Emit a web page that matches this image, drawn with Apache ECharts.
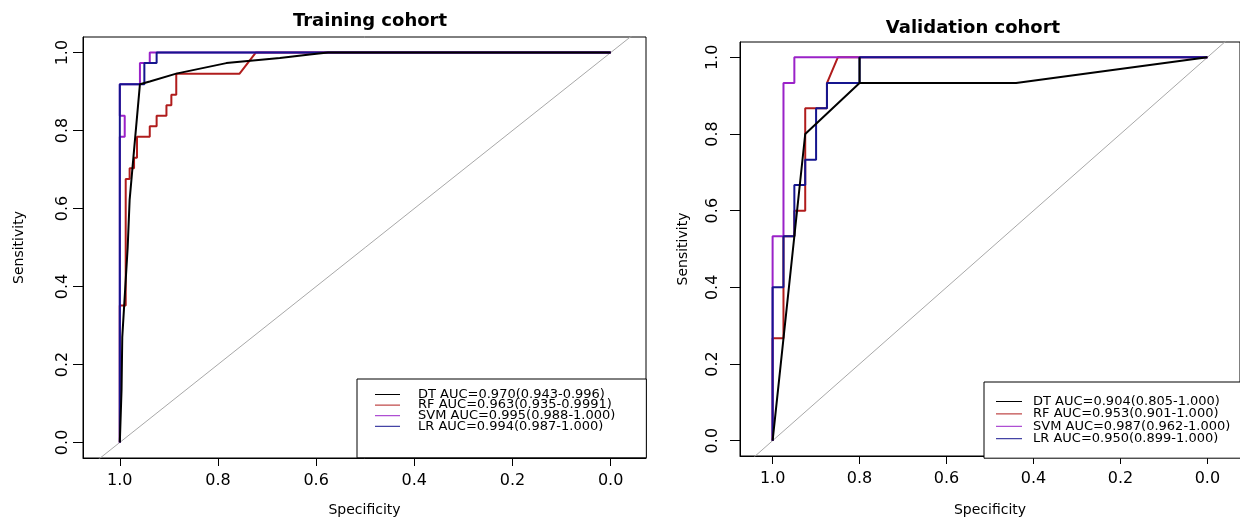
<!DOCTYPE html>
<html>
<head>
<meta charset="utf-8">
<title>ROC curves</title>
<script src="https://cdn.jsdelivr.net/npm/echarts@6/dist/echarts.min.js"></script>
<style>
  html, body { margin: 0; padding: 0; background: #fff; }
  #chart { width: 1240px; height: 522px; }
</style>
</head>
<body>
<div id="chart"></div>
<script>
// ROC points, as [specificity, sensitivity]
const trainDT = [[1, 0], [0.9965, 0.134], [0.995, 0.27], [0.988, 0.416], [0.984, 0.5], [0.98, 0.622],
  [0.971, 0.75], [0.959, 0.919], [0.939, 0.926], [0.885, 0.946], [0.783, 0.973], [0.674, 0.986],
  [0.613, 0.995], [0.576, 1], [0, 1]];
const trainRF = [[1, 0], [1, 0.351], [0.988, 0.351], [0.988, 0.676], [0.98, 0.676], [0.98, 0.703],
  [0.971, 0.703], [0.971, 0.73], [0.965, 0.73], [0.965, 0.784], [0.939, 0.784], [0.939, 0.811],
  [0.925, 0.811], [0.925, 0.838], [0.905, 0.838], [0.905, 0.865], [0.895, 0.865], [0.895, 0.892],
  [0.885, 0.892], [0.885, 0.946], [0.756, 0.946], [0.723, 1], [0, 1]];
const trainSVM = [[1, 0], [1, 0.784], [0.99, 0.784], [0.99, 0.838], [1, 0.838], [1, 0.919],
  [0.959, 0.919], [0.959, 0.973], [0.939, 0.973], [0.939, 1], [0, 1]];
const trainLR = [[1, 0], [1, 0.919], [0.95, 0.919], [0.95, 0.973], [0.925, 0.973], [0.925, 1], [0, 1]];

const validDT = [[1, 0], [0.925, 0.8], [0.8, 0.933], [0.8, 1], [0.8, 0.933], [0.44, 0.933], [0, 1]];
const validRF = [[1, 0], [1, 0.267], [0.975, 0.267], [0.975, 0.533], [0.95, 0.533], [0.95, 0.6],
  [0.925, 0.6], [0.925, 0.867], [0.875, 0.867], [0.875, 0.933], [0.85, 1], [0, 1]];
const validSVM = [[1, 0], [1, 0.533], [0.975, 0.533], [0.975, 0.933], [0.95, 0.933], [0.95, 1], [0, 1]];
const validLR = [[1, 0], [1, 0.4], [0.975, 0.4], [0.975, 0.533], [0.95, 0.533], [0.95, 0.667],
  [0.925, 0.667], [0.925, 0.733], [0.9, 0.733], [0.9, 0.867], [0.875, 0.867], [0.875, 0.933],
  [0.8, 0.933], [0.8, 1], [0, 1]];

const trainNames = ['DT AUC=0.970(0.943-0.996)', 'RF AUC=0.963(0.935-0.9991)',
  'SVM AUC=0.995(0.988-1.000)', 'LR AUC=0.994(0.987-1.000)'];
const validNames = ['DT AUC=0.904(0.805-1.000)', 'RF AUC=0.953(0.901-1.000)',
  'SVM AUC=0.987(0.962-1.000)', 'LR AUC=0.950(0.899-1.000)'];
const panelTitles = ['Training cohort', 'Validation cohort'];
const tickValues = [0, 0.2, 0.4, 0.6, 0.8, 1.0];
const diagonal = [[1.3, -0.3], [-0.3, 1.3]];

const colors = ['#000000', '#b01c1c', '#9a22c8', '#15158e'];
const FONT = 'DejaVu Sans';

const chart = echarts.init(document.getElementById('chart'));

const makeX = (gi, min, max, nameGap) => ({
  type: 'value', gridIndex: gi, inverse: true, min: min, max: max,
  name: 'Specificity', nameLocation: 'middle', nameGap: nameGap,
  nameTextStyle: { fontFamily: FONT, fontSize: 14, color: '#000' },
  axisLine: { show: true, onZero: false, lineStyle: { color: '#000', width: 1 } },
  axisTick: { show: true, customValues: tickValues, length: 8, lineStyle: { color: '#000' } },
  axisLabel: { customValues: tickValues, formatter: v => v.toFixed(1), margin: 15,
    fontFamily: FONT, fontSize: 16, color: '#000' },
  splitLine: { show: false }
});

const makeY = (gi, nameGap, labelMargin) => ({
  type: 'value', gridIndex: gi, min: -0.04, max: 1.04,
  name: 'Sensitivity', nameLocation: 'middle', nameGap: nameGap,
  nameTextStyle: { fontFamily: FONT, fontSize: 14, color: '#000' },
  axisLine: { show: true, onZero: false, lineStyle: { color: '#000', width: 1 } },
  axisTick: { show: true, customValues: tickValues, length: 10, lineStyle: { color: '#000' } },
  axisLabel: { customValues: tickValues, formatter: v => v.toFixed(1), rotate: 90, margin: labelMargin,
    fontFamily: FONT, fontSize: 16, color: '#000' },
  splitLine: { show: false }
});

const curve = (name, data, color, gi, z) => ({
  name: name, type: 'line', data: data, xAxisIndex: gi, yAxisIndex: gi,
  symbol: 'none', z: z, color: color,
  lineStyle: { color: color, width: 2 }
});

const series = [];
[[trainDT, trainRF, trainSVM, trainLR], [validDT, validRF, validSVM, validLR]].forEach((set, gi) => {
  series.push({
    type: 'line', data: diagonal, xAxisIndex: gi, yAxisIndex: gi, symbol: 'none', z: 1,
    silent: true, lineStyle: { color: '#a8a8a8', width: 1 }
  });
  const names = gi === 0 ? trainNames : validNames;
  set.forEach((d, i) => series.push(curve(names[i], d, colors[i], gi, i === 0 ? 4 : 2 + i * 0.1)));
});

const option = {
  animation: false,
  backgroundColor: '#fff',
  title: [
    { text: panelTitles[0], left: 365, top: 7, textAlign: 'center',
      textStyle: { fontFamily: FONT, fontSize: 18, fontWeight: 'bold', color: '#000' } },
    { text: panelTitles[1], left: 968, top: 14, textAlign: 'center',
      textStyle: { fontFamily: FONT, fontSize: 18, fontWeight: 'bold', color: '#000' } }
  ],
  grid: [
    { left: 83, top: 37, width: 563, height: 421, show: true, borderColor: '#000', borderWidth: 1 },
    { left: 740, top: 42, width: 506, height: 416, show: true, borderColor: '#000', borderWidth: 1 }
  ],
  xAxis: [makeX(0, -0.072, 1.075, 45), makeX(1, -0.075, 1.075, 47)],
  yAxis: [makeY(0, 57, 12), makeY(1, 50, 19)],
  legend: [
    {
      data: trainNames, orient: 'vertical', left: 357, top: 379, selectedMode: false,
      padding: [9, 31, 25, 18], itemGap: -2.4, itemWidth: 25, itemHeight: 1, icon: 'rect',
      borderColor: '#000', borderWidth: 1, backgroundColor: '#fff',
      textStyle: { fontFamily: FONT, fontSize: 13, color: '#000', padding: [0, 0, 0, 13] }
    },
    {
      data: validNames, orient: 'vertical', left: 984, top: 382, selectedMode: false,
      padding: [13, 30, 13, 12], itemGap: -0.6, itemWidth: 26, itemHeight: 1, icon: 'rect',
      borderColor: '#000', borderWidth: 1, backgroundColor: '#fff',
      textStyle: { fontFamily: FONT, fontSize: 13, color: '#000', padding: [0, 0, 0, 6] }
    }
  ],
  series: series
};

chart.setOption(option);
</script>
</body>
</html>
